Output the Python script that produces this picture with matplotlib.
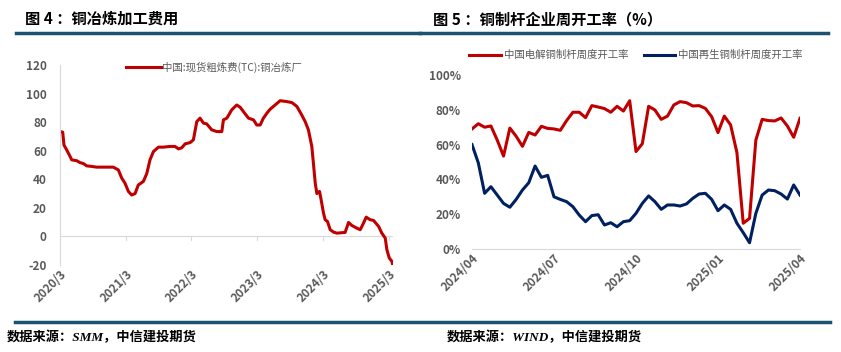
import matplotlib.pyplot as plt
import matplotlib.dates as mdates
import pandas as pd

plt.rcParams['font.family'] = ['Noto Sans CJK SC', 'DejaVu Sans']
plt.rcParams['axes.unicode_minus'] = False

# left chart: spot TC, weekly-ish points
tc_dates = ['2020-03-01', '2020-03-16', '2020-03-23', '2020-04-07', '2020-04-26', '2020-05-05',
            '2020-06-02', '2020-06-20', '2020-07-09', '2020-07-27', '2020-08-24', '2020-09-21',
            '2020-11-15', '2020-12-22', '2021-01-19', '2021-02-07', '2021-02-25', '2021-03-16',
            '2021-04-03', '2021-04-22', '2021-05-10', '2021-06-07', '2021-06-26', '2021-07-14',
            '2021-08-02', '2021-08-30', '2021-09-26', '2021-11-02', '2021-11-30', '2021-12-19',
            '2022-01-06', '2022-01-25', '2022-02-22', '2022-03-12', '2022-03-31', '2022-04-18',
            '2022-05-07', '2022-05-25', '2022-06-22', '2022-07-20', '2022-08-17', '2022-08-26',
            '2022-09-14', '2022-10-11', '2022-11-08', '2022-11-27', '2022-12-15', '2023-01-12',
            '2023-02-09', '2023-02-27', '2023-03-18', '2023-04-05', '2023-04-24', '2023-05-12',
            '2023-06-09', '2023-07-07', '2023-08-13', '2023-09-10', '2023-10-08', '2023-11-04',
            '2023-11-23', '2023-12-11', '2023-12-30', '2024-01-08', '2024-01-18', '2024-01-27',
            '2024-02-11', '2024-02-18', '2024-03-04', '2024-03-13', '2024-03-26', '2024-04-10',
            '2024-04-29', '2024-05-17', '2024-07-02', '2024-07-21', '2024-08-08', '2024-09-05',
            '2024-09-24', '2024-10-12', '2024-10-27', '2024-11-18', '2024-12-07', '2025-01-04',
            '2025-01-22', '2025-02-10', '2025-02-19', '2025-03-04', '2025-03-19', '2025-03-25']
tc_values = [73.4, 73.0, 64.0, 60.6, 56.0, 53.6,
             53.0, 51.7, 51.0, 49.4, 49.0, 48.5,
             48.5, 48.5, 46.6, 40.8, 37.3, 31.5,
             29.0, 30.0, 36.0, 38.5, 44.0, 53.6,
             59.4, 62.5, 62.5, 63.0, 63.0, 61.3,
             62.0, 64.8, 65.7, 67.6, 80.4, 82.8,
             79.3, 78.8, 74.6, 73.4, 73.4, 81.6,
             82.8, 88.6, 92.0, 90.4, 87.4, 82.8,
             81.6, 78.0, 78.0, 82.8, 86.2, 89.0,
             92.0, 95.0, 94.4, 93.7, 91.0, 85.0,
             80.4, 74.6, 63.0, 51.0, 37.3, 30.0,
             31.5, 26.8, 16.3, 11.7, 10.5, 4.7,
             3.0, 2.3, 2.8, 9.8, 7.7, 5.8,
             4.7, 9.3, 13.5, 11.7, 11.2, 7.0,
             2.3, -1.2, -9.3, -15.0, -17.5, -21.0]
tc_label = '中国:现货粗炼费(TC):铜冶炼厂'
tc_ticks = ['2020-03-01', '2021-03-01', '2022-03-01', '2023-03-01', '2024-03-01', '2025-03-01']

# right chart: weekly operating rate of copper rod makers (%)
rod_start = '2024-04-05'
rod_electrolytic = [69, 72, 70, 70.7, 62.6, 53.4, 69.5, 64.8, 59, 67, 65.5, 70.5, 69.3,
                    69, 68.2, 73.8, 78.6, 78.6, 75.5, 82.4, 81.6, 80.7, 78.6, 82, 79.3, 85.2,
                    56, 60.5, 82, 79.9, 74.5, 76.4, 82.8, 84.7, 84.1, 82.2, 82.4, 80.8, 76,
                    66.9, 76.4, 71.3, 55.4, 14.8, 17.6, 62.6, 74.5, 73.8, 73.6, 75.3, 70.7,
                    64.2, 75.1]
rod_recycled = [60, 49.5, 32, 35.8, 31, 26.2, 24, 28.5, 33.9, 38.1, 47.7, 41.2, 42.3,
                30, 28.5, 27.2, 24.3, 19.5, 15.7, 19.2, 19.7, 13.8, 15.1, 12.8, 15.7, 16.3,
                20.5, 26.2, 30.5, 27.2, 22.8, 25.3, 25.3, 24.7, 25.9, 29.1, 31.6, 32, 28.5,
                22, 25.3, 22.8, 14.8, 9.4, 3.6, 20.5, 31, 33.9, 33.5, 31.6, 28.7,
                36.8, 31]
rod_labels = ['中国电解铜制杆周度开工率', '中国再生铜制杆周度开工率']

RED = '#C00000'
NAVY = '#002060'
GRAY = '#595959'
BAR = '#1B5272'

fig = plt.figure(figsize=(8.41, 3.52), dpi=100)

# header / footer rules and texts
fig.add_artist(plt.Line2D([16 / 841, 420 / 841], [1 - 33 / 352] * 2, color=BAR, lw=2.5))
fig.add_artist(plt.Line2D([420 / 841, 828 / 841], [1 - 33 / 352] * 2, color=BAR, lw=2.5))
fig.add_artist(plt.Line2D([15 / 841, 830 / 841], [1 - 322 / 352] * 2, color=BAR, lw=2.5))
fig.text(25 / 841, 1 - 19 / 352, '图 4 ：铜冶炼加工费用', fontsize=11, fontweight='bold',
         va='center', ha='left')
fig.text(433 / 841, 1 - 19 / 352, '图 5 ：铜制杆企业周开工率（%）', fontsize=11, fontweight='bold',
         va='center', ha='left')
src_font = ['Liberation Serif', 'Noto Sans CJK SC']
fig.text(7 / 841, 1 - 337 / 352, '数据来源：SMM，中信建投期货', fontsize=9.5, fontweight='bold',
         style='italic', family=src_font, va='center', ha='left')
fig.text(447 / 841, 1 - 337 / 352, '数据来源：WIND，中信建投期货', fontsize=9.5, fontweight='bold',
         style='italic', family=src_font, va='center', ha='left')

# ---- left chart
ax1 = fig.add_axes([60 / 841, 1 - 265 / 352, 333 / 841, 200 / 352])
ax1.plot(pd.to_datetime(tc_dates), tc_values, color=RED, lw=2.2, label=tc_label)
ax1.set_ylim(-20, 120)
ax1.set_yticks(range(-20, 121, 20))
ax1.set_xlim(pd.Timestamp('2020-03-01'), pd.Timestamp('2025-03-25'))
ax1.set_xticks(pd.to_datetime(tc_ticks))
ax1.xaxis.set_major_formatter(mdates.DateFormatter('%Y/%-m'))
for s in ['top', 'right', 'bottom']:
    ax1.spines[s].set_visible(False)
ax1.spines['left'].set_color('#D9D9D9')
ax1.axhline(0, color='#D9D9D9', lw=0.8, zorder=0)
for t in pd.to_datetime(tc_ticks[1:]):
    ax1.plot([t, t], [-2.5, 0], color='#D9D9D9', lw=0.8, zorder=0)
ax1.tick_params(axis='y', length=0, labelsize=8.5, labelcolor=GRAY, pad=9.5)
ax1.tick_params(axis='x', length=0, labelsize=8.5, labelcolor=GRAY, pad=2)
for lab in ax1.get_xticklabels() + ax1.get_yticklabels():
    lab.set_fontweight('bold')
for lab in ax1.get_xticklabels():
    lab.set_rotation(45)
    lab.set_ha('right')
    lab.set_rotation_mode('anchor')
leg1 = ax1.legend(loc='upper left', bbox_to_anchor=(0.17, 1.065), frameon=False, fontsize=7.5,
                  handlelength=3.4, handletextpad=0.1)
for t in leg1.get_texts():
    t.set_color(GRAY)

# ---- right chart
rod_dates = pd.date_range(rod_start, periods=len(rod_electrolytic), freq='7D')
ax2 = fig.add_axes([472 / 841, 1 - 249 / 352, 328 / 841, 174 / 352])
ax2.plot(rod_dates, rod_electrolytic, color=RED, lw=2.2, label=rod_labels[0])
ax2.plot(rod_dates, rod_recycled, color=NAVY, lw=2.2, label=rod_labels[1])
ax2.set_ylim(0, 100)
ax2.set_yticks(range(0, 101, 20))
ax2.set_yticklabels([f'{v}%' for v in range(0, 101, 20)])
ax2.set_xlim(rod_dates[0], rod_dates[-1])
ax2.set_xticks(rod_dates[::13])
ax2.xaxis.set_major_formatter(mdates.DateFormatter('%Y/%m'))
for s in ['top', 'right', 'left']:
    ax2.spines[s].set_visible(False)
ax2.spines['bottom'].set_color('#D9D9D9')
ax2.tick_params(axis='y', length=0, labelsize=8.5, labelcolor=GRAY, pad=8)
ax2.tick_params(axis='x', length=0, labelsize=8.5, labelcolor=GRAY, pad=2)
for lab in ax2.get_xticklabels() + ax2.get_yticklabels():
    lab.set_fontweight('bold')
for lab in ax2.get_xticklabels():
    lab.set_rotation(45)
    lab.set_ha('right')
    lab.set_rotation_mode('anchor')
leg2 = ax2.legend(loc='lower center', bbox_to_anchor=(0.5, 1.03), ncol=2, frameon=False,
                  fontsize=7.5, handlelength=3.0, handletextpad=0.3, columnspacing=1.5)
for t in leg2.get_texts():
    t.set_color(GRAY)

fig.savefig('out.png', dpi=100)
